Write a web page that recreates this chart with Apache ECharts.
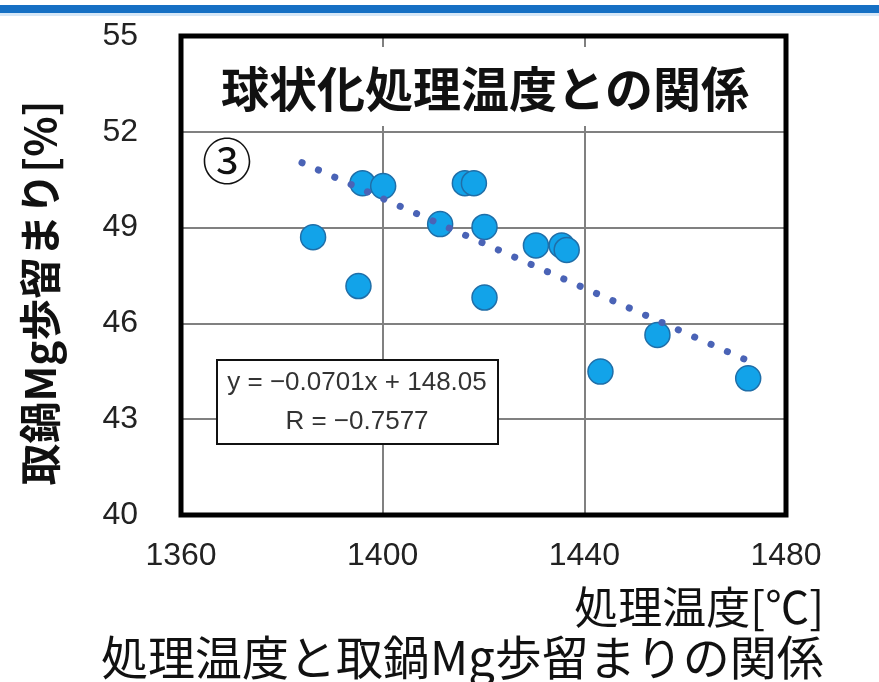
<!DOCTYPE html>
<html>
<head>
<meta charset="utf-8">
<script src="https://cdn.jsdelivr.net/npm/echarts@6/dist/echarts.min.js"></script>
<style>
  html, body { margin: 0; padding: 0; background: #fff; }
  #chart { width: 879px; height: 682px; }
</style>
</head>
<body>
<div id="chart"></div>
<script>
// Spheroidizing temperature [°C] vs. ladle Mg yield [%]
const tempC = [1396.0, 1400.1, 1416.3, 1418.1, 1411.4, 1420.2, 1386.2, 1395.2, 1420.2, 1430.4, 1435.5, 1436.5, 1454.5, 1443.2, 1472.5];
const yieldPct = [50.39, 50.30, 50.39, 50.39, 49.11, 49.02, 48.70, 47.17, 46.81, 48.44, 48.44, 48.30, 45.64, 44.49, 44.28];

// Linear fit as printed in the equation box
const fitSlope = -0.0701;
const fitIntercept = 148.05;
const fitR = -0.7577;
const fitRangeX = [1384, 1472];

const xTicks = [1360, 1400, 1440, 1480];
const yTicks = [40, 43, 46, 49, 52, 55];

const points = tempC.map((t, i) => [t, yieldPct[i]]);
const fitLine = fitRangeX.map(x => [x, fitSlope * x + fitIntercept]);

const G = { left: 181, top: 36, right: 786, bottom: 515 };
const cjk = '"Noto Sans CJK JP", "Noto Sans CJK SC", sans-serif';
const latin = '"Liberation Sans", Arial, sans-serif';

const fmt = v => (v < 0 ? '\u2212' + Math.abs(v) : String(v));

const chart = echarts.init(document.getElementById('chart'), null, { renderer: 'canvas' });
chart.setOption({
  animation: false,
  backgroundColor: '#ffffff',
  grid: { left: G.left, top: G.top, right: 879 - G.right, bottom: 682 - G.bottom, containLabel: false },
  xAxis: {
    type: 'value',
    min: xTicks[0], max: xTicks[xTicks.length - 1], interval: 40,
    axisLine: { show: false },
    axisTick: { show: false },
    axisLabel: { fontFamily: latin, fontSize: 32, color: '#222', margin: 25, formatter: v => String(v) },
    splitLine: { show: true, lineStyle: { color: '#808080', width: 2 } }
  },
  yAxis: {
    type: 'value',
    min: yTicks[0], max: yTicks[yTicks.length - 1], interval: 3,
    axisLine: { show: false },
    axisTick: { show: false },
    axisLabel: { fontFamily: latin, fontSize: 32, color: '#222', margin: 43, formatter: v => String(v) },
    splitLine: { show: true, lineStyle: { color: '#808080', width: 2 } }
  },
  series: [
    {
      type: 'scatter',
      data: points,
      symbol: 'circle',
      symbolSize: 25,
      z: 3,
      itemStyle: { color: '#12a3e9', borderColor: '#1f6ea8', borderWidth: 1.5, opacity: 1 }
    },
    {
      type: 'line',
      data: fitLine,
      symbol: 'none',
      z: 4,
      lineStyle: { color: '#4a63b6', width: 7, type: [0.1, 17.8], cap: 'round' }
    }
  ],
  graphic: [
    // header rule
    { type: 'rect', shape: { x: 0, y: 5, width: 879, height: 8 }, style: { fill: '#1670c4' }, z: 10 },
    { type: 'rect', shape: { x: 0, y: 13, width: 879, height: 3 }, style: { fill: '#d6e7f7' }, z: 10 },
    // plot frame
    { type: 'rect', shape: { x: G.left, y: G.top, width: G.right - G.left, height: G.bottom - G.top },
      style: { fill: null, stroke: '#000', lineWidth: 5 }, z: 50 },
    // panel title
    { type: 'rect', shape: { x: G.left + 4, y: 47, width: G.right - G.left - 8, height: 79 },
      style: { fill: '#fff' }, z: 20 },
    { type: 'text', x: 485, y: 89, z: 21,
      style: { text: '球状化処理温度との関係', font: 'bold 48px ' + cjk, fill: '#111',
               textAlign: 'center', textVerticalAlign: 'middle' } },
    // panel number
    { type: 'text', x: 227, y: 161, z: 21,
      style: { text: '③', font: '50px ' + cjk, fill: '#111', textAlign: 'center', textVerticalAlign: 'middle' } },
    // fit equation box
    { type: 'rect', shape: { x: 217, y: 360, width: 281, height: 84 },
      style: { fill: '#fff', stroke: '#111', lineWidth: 2 }, z: 20 },
    { type: 'text', x: 357, y: 383, z: 21,
      style: { text: 'y = ' + fmt(fitSlope) + 'x + ' + fitIntercept.toFixed(2), font: '26px ' + latin, fill: '#333',
               textAlign: 'center', textVerticalAlign: 'middle' } },
    { type: 'text', x: 357, y: 422, z: 21,
      style: { text: 'R = ' + fmt(fitR), font: '26px ' + latin, fill: '#333',
               textAlign: 'center', textVerticalAlign: 'middle' } },
    // axis names
    { type: 'text', x: 40, y: 293, rotation: Math.PI / 2, z: 21,
      style: { text: '取鍋Mg歩留まり[%]', font: 'bold 42px ' + cjk, fill: '#111',
               textAlign: 'center', textVerticalAlign: 'middle' } },
    { type: 'text', x: 824, y: 607, z: 21,
      style: { text: '処理温度[℃]', font: '44px ' + cjk, fill: '#111',
               textAlign: 'right', textVerticalAlign: 'middle' } },
    // caption
    { type: 'text', x: 101, y: 657, z: 21,
      style: { text: '処理温度と取鍋Mg歩留まりの関係', font: '47px ' + cjk, fill: '#111',
               textAlign: 'left', textVerticalAlign: 'middle' } }
  ]
});
</script>
</body>
</html>
